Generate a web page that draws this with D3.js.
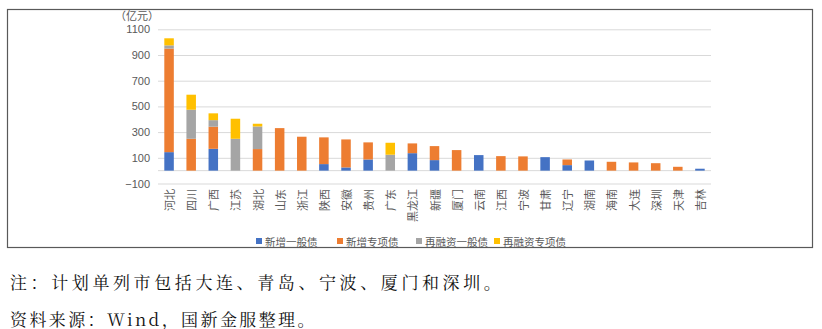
<!DOCTYPE html>
<html>
<head>
<meta charset="utf-8">
<script src="https://cdn.jsdelivr.net/npm/d3@7"></script>
<style>
  html, body { margin: 0; padding: 0; background: #fff; }
  svg { display: block; }
</style>
</head>
<body>
<svg id="chart" width="822" height="329"></svg>
<script>
// 各地区（含计划单列市）地方债发行计划，单位：亿元
const regions = ["河北","四川","广西","江苏","湖北","山东","浙江","陕西","安徽","贵州","广东","黑龙江","新疆","厦门","云南","江西","宁波","甘肃","辽宁","湖南","海南","大连","深圳","天津","吉林"];
const newGeneral    = [144, 0, 170, 0, 0, 0, 0, 51, 25, 87, 0, 136, 82, 0, 121, 0, 0, 105, 43, 79, 0, 0, 0, 0, 15];
const newSpecial    = [806, 248, 172, 0, 168, 331, 264, 208, 218, 133, 0, 76, 109, 160, 0, 113, 111, 0, 44, 0, 69, 64, 58, 30, 0];
const refiGeneral   = [25, 226, 51, 248, 176, 0, 0, 0, 0, 0, 124, 0, 0, 0, 0, 0, 0, 0, 0, 0, 0, 0, 0, 0, 0];
const refiSpecial   = [55, 117, 53, 156, 21, 0, 0, 0, 0, 0, 93, 0, 0, 0, 0, 0, 0, 0, 0, 0, 0, 0, 0, 0, 0];
const seriesNames   = ["新增一般债", "新增专项债", "再融资一般债", "再融资专项债"];
const yTicks        = [-100, 100, 300, 500, 700, 900, 1100];
const unitLabel     = "（亿元）";
const noteText      = "注：计划单列市包括大连、青岛、宁波、厦门和深圳。";
const sourceText    = "资料来源：Wind，国新金服整理。";

const colors = ["#4472C4", "#ED7D31", "#A5A5A5", "#FFC000"];
const sans = "'Liberation Sans', 'Noto Sans CJK SC', sans-serif";
const cjk = "'Noto Sans CJK SC', sans-serif";

const svg = d3.select("#chart");

// 外框
svg.append("rect")
  .attr("x", 7.5).attr("y", 9.5)
  .attr("width", 805).attr("height", 238)
  .attr("fill", "none").attr("stroke", "#595959").attr("stroke-width", 1.2);

const rows = regions.map((r, i) => ({
  region: r,
  k0: newGeneral[i], k1: newSpecial[i], k2: refiGeneral[i], k3: refiSpecial[i]
}));
const keys = ["k0", "k1", "k2", "k3"];
const stacked = d3.stack().keys(keys)(rows);

const x = d3.scaleBand().domain(regions).range([158, 711])
  .paddingInner(0.57).paddingOuter(0.285);
const y = d3.scaleLinear().domain([-100, 1100]).range([183.5, 29.3]);

// 网格线
const yAxis = d3.axisLeft(y).tickValues(yTicks).tickSize(-(711 - 158)).tickPadding(8)
  .tickFormat(d => d < 0 ? "\u2212" + Math.abs(d) : d);
const gy = svg.append("g").attr("transform", "translate(158,0)").call(yAxis);
gy.select(".domain").remove();
gy.selectAll(".tick line").attr("stroke", "#d9d9d9").attr("stroke-width", 1);
gy.selectAll(".tick text").attr("fill", "#595959")
  .style("font-family", sans).style("font-size", "11px");

// 零值基线
svg.append("line")
  .attr("x1", 158).attr("x2", 711)
  .attr("y1", y(0)).attr("y2", y(0))
  .attr("stroke", "#d9d9d9").attr("stroke-width", 1);

// 堆积柱
svg.append("g").selectAll("g")
  .data(stacked).join("g")
  .attr("fill", (d, i) => colors[i])
  .selectAll("rect")
  .data(d => d).join("rect")
  .attr("x", d => x(d.data.region))
  .attr("width", x.bandwidth())
  .attr("y", d => y(d[1]))
  .attr("height", d => Math.max(0, y(d[0]) - y(d[1])));

// 地区标签（竖排）
svg.append("g").selectAll("text")
  .data(regions).join("text")
  .attr("transform", d => `translate(${x(d) + x.bandwidth() / 2},189) rotate(-90)`)
  .attr("text-anchor", "end")
  .attr("dominant-baseline", "central")
  .attr("fill", "#595959")
  .style("font-family", cjk).style("font-size", "11px")
  .text(d => d);

// 单位
svg.append("text")
  .attr("x", 137).attr("y", 15)
  .attr("text-anchor", "middle").attr("dominant-baseline", "central")
  .attr("fill", "#595959")
  .style("font-family", cjk).style("font-size", "11px")
  .text(unitLabel);

// 图例
const legendX = [256, 337, 416, 494];
const lg = svg.append("g").selectAll("g")
  .data(seriesNames).join("g")
  .attr("transform", (d, i) => `translate(${legendX[i]},241)`);
lg.append("rect").attr("x", 0).attr("y", -3).attr("width", 6).attr("height", 6)
  .attr("fill", (d, i) => colors[i]);
lg.append("text").attr("x", 9).attr("y", 0)
  .attr("dominant-baseline", "central")
  .attr("fill", "#595959")
  .style("font-family", cjk).style("font-size", "10.5px")
  .text(d => d);

// 注释与资料来源
const foot = svg.append("g")
  .style("font-family", "'Noto Serif CJK SC', 'DejaVu Serif', 'Noto Sans CJK SC', serif")
  .style("font-size", "17px")
  .attr("fill", "#111");
foot.append("text").attr("x", 10).attr("y", 281)
  .attr("dominant-baseline", "central")
  .attr("letter-spacing", "3.6px")
  .text(noteText);
foot.append("text").attr("x", 10).attr("y", 318)
  .attr("dominant-baseline", "central")
  .attr("letter-spacing", "2.4px")
  .text(sourceText);
</script>
</body>
</html>
